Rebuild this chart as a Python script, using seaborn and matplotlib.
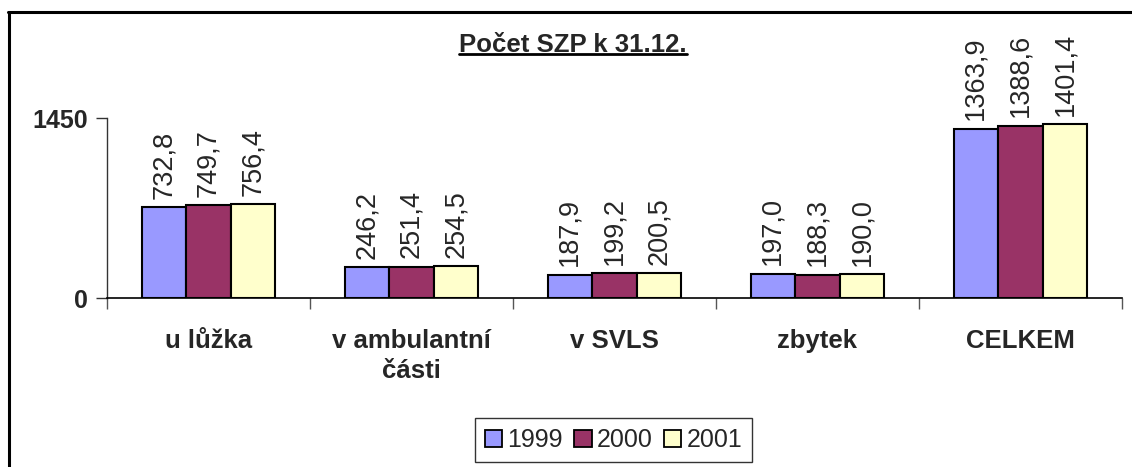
import matplotlib
matplotlib.use("Agg")
import matplotlib.pyplot as plt
import seaborn as sns
import pandas as pd
import numpy as np
from matplotlib.patches import Patch
from matplotlib.lines import Line2D

categories = ["u lůžka", "v ambulantní\nčásti", "v SVLS", "zbytek", "CELKEM"]
years = ["1999", "2000", "2001"]
v1999 = [732.8, 246.2, 187.9, 197.0, 1363.9]
v2000 = [749.7, 251.4, 199.2, 188.3, 1388.6]
v2001 = [756.4, 254.5, 200.5, 190.0, 1401.4]
colors = ["#9999FF", "#993366", "#FFFFCC"]
title = "Počet SZP k 31.12."

sns.set_theme(style="white")
plt.rcParams["font.family"] = ["Liberation Sans", "DejaVu Sans"]

rows = []
for y, vals in zip(years, [v1999, v2000, v2001]):
    for c, v in zip(categories, vals):
        rows.append({"cat": c, "year": y, "val": v})
df = pd.DataFrame(rows)

W, H = 1132, 467
fig = plt.figure(figsize=(W / 100, H / 100), dpi=100)
ax = fig.add_axes([107 / W, 1 - 298 / H, (1122 - 107) / W, (298 - 118) / H])

sns.barplot(data=df, x="cat", y="val", hue="year", palette=colors, order=categories,
            hue_order=years, width=0.66, edgecolor="black", linewidth=1.5,
            saturation=1, ax=ax, legend=False)

ax.set_xlim(-0.5, len(categories) - 0.5)
ax.set_ylim(0, 1450)
ax.set_yticks([0, 1450])
ax.set_yticklabels(["0", "1450"], fontsize=18, fontweight="bold")
ax.set_xticks(range(len(categories)))
ax.set_xticklabels(categories, fontsize=18.5, fontweight="bold", linespacing=1.35)
ax.tick_params(axis="x", which="major", length=0, pad=22)
ax.set_xticks(np.arange(-0.5, len(categories)), minor=True)
ax.tick_params(axis="x", which="minor", length=8, width=1, color="#555555", direction="out", bottom=True)
ax.tick_params(axis="y", length=8, width=1, color="#333333", direction="out", left=True, pad=6)
ax.set_xlabel("")
ax.set_ylabel("")
for s in ["top", "right"]:
    ax.spines[s].set_visible(False)
ax.spines["left"].set_color("#333333")
ax.spines["left"].set_linewidth(1)
ax.spines["bottom"].set_color("black")
ax.spines["bottom"].set_linewidth(1.2)
ax.set_facecolor("white")

for cont in ax.containers:
    for bar in cont:
        h = bar.get_height()
        ax.annotate(f"{h:.1f}".replace(".", ","),
                    (bar.get_x() + bar.get_width() / 2, h),
                    xytext=(0, 6), textcoords="offset points",
                    rotation=90, ha="center", va="bottom", fontsize=19.5,
                    annotation_clip=False, clip_on=False)

t = fig.text(573 / W, 1 - 45 / H, title, ha="center", va="center",
             fontsize=18.5, fontweight="bold")
fig.canvas.draw()
bb = t.get_window_extent(fig.canvas.get_renderer())
fig.add_artist(Line2D([bb.x0 / W, bb.x1 / W], [1 - 54 / H, 1 - 54 / H],
                      transform=fig.transFigure, color="black", linewidth=2))

handles = [Patch(facecolor=c, edgecolor="black", linewidth=1.3) for c in colors]
leg = fig.legend(handles, years, loc="center", bbox_to_anchor=(613.5 / W, 1 - 440 / H),
                 ncol=3, fontsize=18, frameon=True, fancybox=False, shadow=False,
                 handlelength=0.7, handleheight=0.7, handletextpad=0.2,
                 columnspacing=0.45, borderpad=0.4, borderaxespad=0)
leg.get_frame().set_edgecolor("black")
leg.get_frame().set_linewidth(1)

# outer chart frame (left and top edges)
fig.add_artist(Line2D([9 / W, 9 / W], [0, 1 - 12 / H], transform=fig.transFigure,
                      color="black", linewidth=2.2))
fig.add_artist(Line2D([8 / W, 1], [1 - 12 / H, 1 - 12 / H], transform=fig.transFigure,
                      color="black", linewidth=2.2))

fig.savefig("out.png", dpi=100, facecolor="white")
